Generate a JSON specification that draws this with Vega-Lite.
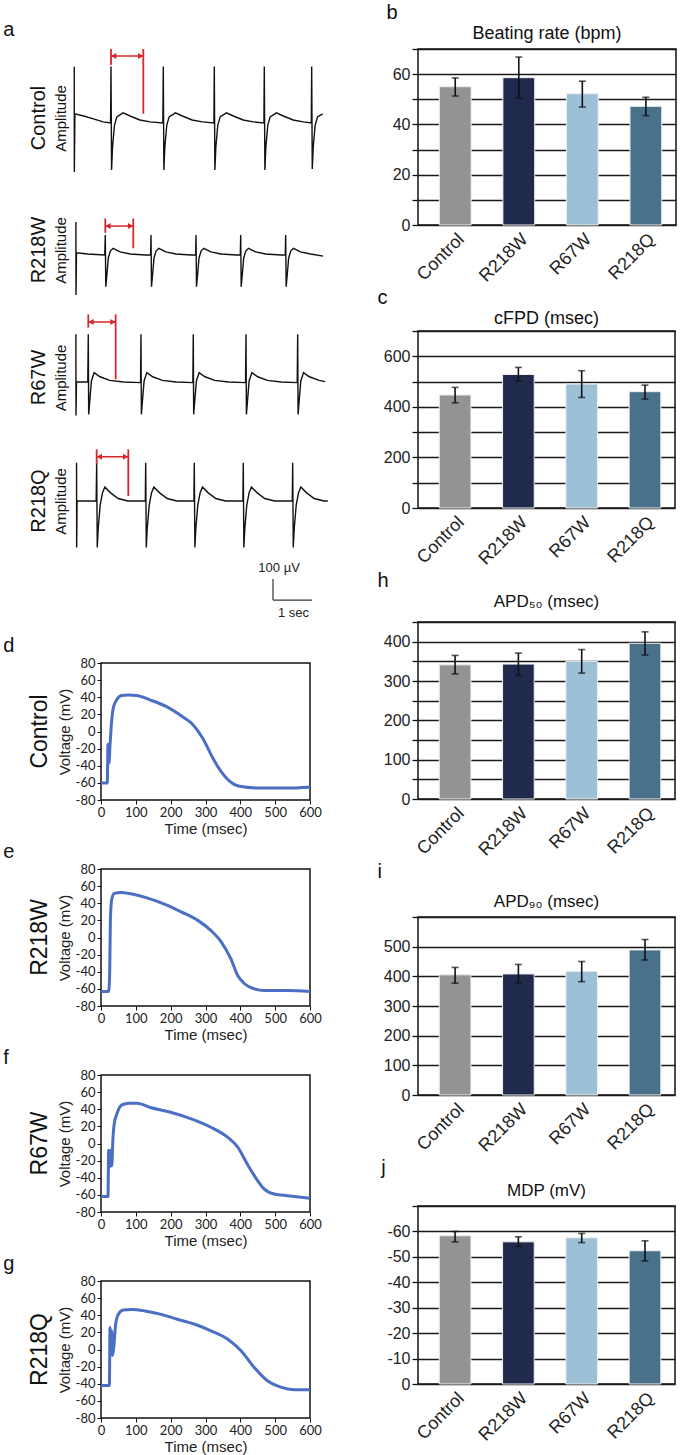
{
"$schema": "https://vega.github.io/schema/vega-lite/v6.json",
"background": "white",
"padding": {"left": 3, "top": 2, "right": 0, "bottom": 0},
"config": {
  "font": "Liberation Sans",
  "view": {"stroke": null},
  "title": {"fontWeight": "normal", "color": "#111"},
  "axis": {"labelColor": "#222", "titleColor": "#222", "titleFontWeight": "normal"}
},
"datasets": {
  "fp": [
    {"trace":"Control","t":0.058,"v":248},{"trace":"Control","t":0.06,"v":-252},{"trace":"Control","t":0.075,"v":24},{"trace":"Control","t":0.3,"v":14},{"trace":"Control","t":0.55,"v":0},{"trace":"Control","t":0.8,"v":-14},{"trace":"Control","t":0.99,"v":-19},
    {"trace":"Control","t":1.0,"v":250},{"trace":"Control","t":1.015,"v":-243},{"trace":"Control","t":1.04,"v":-133},{"trace":"Control","t":1.09,"v":-29},{"trace":"Control","t":1.15,"v":10},{"trace":"Control","t":1.31,"v":29},{"trace":"Control","t":1.49,"v":14},{"trace":"Control","t":1.74,"v":-5},{"trace":"Control","t":2.0,"v":-14},{"trace":"Control","t":2.33,"v":-19},
    {"trace":"Control","t":2.341,"v":250},{"trace":"Control","t":2.356,"v":-243},{"trace":"Control","t":2.381,"v":-133},{"trace":"Control","t":2.431,"v":-29},{"trace":"Control","t":2.491,"v":10},{"trace":"Control","t":2.651,"v":29},{"trace":"Control","t":2.831,"v":14},{"trace":"Control","t":3.081,"v":-5},{"trace":"Control","t":3.341,"v":-14},{"trace":"Control","t":3.639,"v":-19},
    {"trace":"Control","t":3.649,"v":250},{"trace":"Control","t":3.664,"v":-243},{"trace":"Control","t":3.689,"v":-133},{"trace":"Control","t":3.739,"v":-29},{"trace":"Control","t":3.799,"v":10},{"trace":"Control","t":3.959,"v":29},{"trace":"Control","t":4.139,"v":14},{"trace":"Control","t":4.389,"v":-5},{"trace":"Control","t":4.649,"v":-14},{"trace":"Control","t":4.921,"v":-19},
    {"trace":"Control","t":4.931,"v":250},{"trace":"Control","t":4.946,"v":-243},{"trace":"Control","t":4.971,"v":-133},{"trace":"Control","t":5.021,"v":-29},{"trace":"Control","t":5.081,"v":10},{"trace":"Control","t":5.241,"v":29},{"trace":"Control","t":5.421,"v":14},{"trace":"Control","t":5.671,"v":-5},{"trace":"Control","t":5.931,"v":-14},{"trace":"Control","t":6.136,"v":-19},
    {"trace":"Control","t":6.146,"v":250},{"trace":"Control","t":6.161,"v":-238},{"trace":"Control","t":6.186,"v":-133},{"trace":"Control","t":6.236,"v":-29},{"trace":"Control","t":6.296,"v":10},{"trace":"Control","t":6.428,"v":24},

    {"trace":"R218W","t":0.1,"v":152},{"trace":"R218W","t":0.103,"v":-195},{"trace":"R218W","t":0.115,"v":6},{"trace":"R218W","t":0.4,"v":0},{"trace":"R218W","t":0.84,"v":-5},
    {"trace":"R218W","t":0.854,"v":90},{"trace":"R218W","t":0.867,"v":-156},{"trace":"R218W","t":0.894,"v":-100},{"trace":"R218W","t":0.931,"v":-19},{"trace":"R218W","t":0.984,"v":14},{"trace":"R218W","t":1.054,"v":27},{"trace":"R218W","t":1.234,"v":10},{"trace":"R218W","t":1.494,"v":0},{"trace":"R218W","t":1.884,"v":-5},{"trace":"R218W","t":2.016,"v":-5},
    {"trace":"R218W","t":2.026,"v":90},{"trace":"R218W","t":2.039,"v":-156},{"trace":"R218W","t":2.066,"v":-100},{"trace":"R218W","t":2.103,"v":-19},{"trace":"R218W","t":2.156,"v":14},{"trace":"R218W","t":2.226,"v":27},{"trace":"R218W","t":2.406,"v":10},{"trace":"R218W","t":2.666,"v":0},{"trace":"R218W","t":3.056,"v":-5},{"trace":"R218W","t":3.17,"v":-5},
    {"trace":"R218W","t":3.18,"v":90},{"trace":"R218W","t":3.193,"v":-156},{"trace":"R218W","t":3.22,"v":-100},{"trace":"R218W","t":3.257,"v":-19},{"trace":"R218W","t":3.31,"v":14},{"trace":"R218W","t":3.38,"v":27},{"trace":"R218W","t":3.56,"v":10},{"trace":"R218W","t":3.82,"v":0},{"trace":"R218W","t":4.21,"v":-5},{"trace":"R218W","t":4.316,"v":-5},
    {"trace":"R218W","t":4.326,"v":90},{"trace":"R218W","t":4.339,"v":-156},{"trace":"R218W","t":4.366,"v":-100},{"trace":"R218W","t":4.403,"v":-19},{"trace":"R218W","t":4.456,"v":14},{"trace":"R218W","t":4.526,"v":27},{"trace":"R218W","t":4.706,"v":10},{"trace":"R218W","t":4.966,"v":0},{"trace":"R218W","t":5.356,"v":-5},{"trace":"R218W","t":5.469,"v":-5},
    {"trace":"R218W","t":5.479,"v":90},{"trace":"R218W","t":5.492,"v":-156},{"trace":"R218W","t":5.519,"v":-100},{"trace":"R218W","t":5.556,"v":-19},{"trace":"R218W","t":5.609,"v":14},{"trace":"R218W","t":5.679,"v":27},{"trace":"R218W","t":5.859,"v":10},{"trace":"R218W","t":6.119,"v":0},{"trace":"R218W","t":6.44,"v":-10},

    {"trace":"R67W","t":0.1,"v":222},{"trace":"R67W","t":0.103,"v":-165},{"trace":"R67W","t":0.115,"v":-5},{"trace":"R67W","t":0.405,"v":-5},
    {"trace":"R67W","t":0.418,"v":222},{"trace":"R67W","t":0.428,"v":-159},{"trace":"R67W","t":0.458,"v":-90},{"trace":"R67W","t":0.498,"v":0},{"trace":"R67W","t":0.568,"v":40},{"trace":"R67W","t":0.718,"v":20},{"trace":"R67W","t":0.968,"v":3},{"trace":"R67W","t":1.318,"v":-5},{"trace":"R67W","t":1.758,"v":-8},
    {"trace":"R67W","t":1.769,"v":222},{"trace":"R67W","t":1.779,"v":-159},{"trace":"R67W","t":1.809,"v":-90},{"trace":"R67W","t":1.849,"v":0},{"trace":"R67W","t":1.919,"v":40},{"trace":"R67W","t":2.069,"v":20},{"trace":"R67W","t":2.319,"v":3},{"trace":"R67W","t":2.669,"v":-5},{"trace":"R67W","t":3.099,"v":-8},
    {"trace":"R67W","t":3.11,"v":222},{"trace":"R67W","t":3.12,"v":-159},{"trace":"R67W","t":3.15,"v":-90},{"trace":"R67W","t":3.19,"v":0},{"trace":"R67W","t":3.26,"v":40},{"trace":"R67W","t":3.41,"v":20},{"trace":"R67W","t":3.66,"v":3},{"trace":"R67W","t":4.01,"v":-5},{"trace":"R67W","t":4.45,"v":-8},
    {"trace":"R67W","t":4.462,"v":222},{"trace":"R67W","t":4.472,"v":-159},{"trace":"R67W","t":4.502,"v":-90},{"trace":"R67W","t":4.542,"v":0},{"trace":"R67W","t":4.612,"v":40},{"trace":"R67W","t":4.762,"v":20},{"trace":"R67W","t":5.012,"v":3},{"trace":"R67W","t":5.362,"v":-5},{"trace":"R67W","t":5.775,"v":-8},
    {"trace":"R67W","t":5.787,"v":222},{"trace":"R67W","t":5.797,"v":-159},{"trace":"R67W","t":5.827,"v":-90},{"trace":"R67W","t":5.867,"v":0},{"trace":"R67W","t":5.937,"v":40},{"trace":"R67W","t":6.087,"v":20},{"trace":"R67W","t":6.337,"v":3},{"trace":"R67W","t":6.487,"v":-3},

    {"trace":"R218Q","t":0.117,"v":182},{"trace":"R218Q","t":0.12,"v":-222},{"trace":"R218Q","t":0.13,"v":0},{"trace":"R218Q","t":0.62,"v":0},
    {"trace":"R218Q","t":0.633,"v":182},{"trace":"R218Q","t":0.648,"v":-222},{"trace":"R218Q","t":0.673,"v":-130},{"trace":"R218Q","t":0.723,"v":-20},{"trace":"R218Q","t":0.783,"v":40},{"trace":"R218Q","t":0.843,"v":67},{"trace":"R218Q","t":0.983,"v":40},{"trace":"R218Q","t":1.183,"v":12},{"trace":"R218Q","t":1.433,"v":0},{"trace":"R218Q","t":1.88,"v":0},
    {"trace":"R218Q","t":1.89,"v":182},{"trace":"R218Q","t":1.905,"v":-222},{"trace":"R218Q","t":1.93,"v":-130},{"trace":"R218Q","t":1.98,"v":-20},{"trace":"R218Q","t":2.04,"v":40},{"trace":"R218Q","t":2.1,"v":67},{"trace":"R218Q","t":2.24,"v":40},{"trace":"R218Q","t":2.44,"v":12},{"trace":"R218Q","t":2.69,"v":0},{"trace":"R218Q","t":3.126,"v":0},
    {"trace":"R218Q","t":3.136,"v":182},{"trace":"R218Q","t":3.151,"v":-222},{"trace":"R218Q","t":3.176,"v":-130},{"trace":"R218Q","t":3.226,"v":-20},{"trace":"R218Q","t":3.286,"v":40},{"trace":"R218Q","t":3.346,"v":67},{"trace":"R218Q","t":3.486,"v":40},{"trace":"R218Q","t":3.686,"v":12},{"trace":"R218Q","t":3.936,"v":0},{"trace":"R218Q","t":4.382,"v":0},
    {"trace":"R218Q","t":4.392,"v":182},{"trace":"R218Q","t":4.407,"v":-222},{"trace":"R218Q","t":4.432,"v":-130},{"trace":"R218Q","t":4.482,"v":-20},{"trace":"R218Q","t":4.542,"v":40},{"trace":"R218Q","t":4.602,"v":67},{"trace":"R218Q","t":4.742,"v":40},{"trace":"R218Q","t":4.942,"v":12},{"trace":"R218Q","t":5.192,"v":0},{"trace":"R218Q","t":5.649,"v":0},
    {"trace":"R218Q","t":5.659,"v":182},{"trace":"R218Q","t":5.674,"v":-222},{"trace":"R218Q","t":5.699,"v":-130},{"trace":"R218Q","t":5.749,"v":-20},{"trace":"R218Q","t":5.809,"v":40},{"trace":"R218Q","t":5.869,"v":67},{"trace":"R218Q","t":6.009,"v":40},{"trace":"R218Q","t":6.209,"v":12},{"trace":"R218Q","t":6.459,"v":0},{"trace":"R218Q","t":6.56,"v":0}
  ],
  "red": [
    {"trace":"Control","t":1.0,"v1":257,"v2":333},{"trace":"Control","t":1.829,"v1":25,"v2":333},
    {"trace":"R218W","t":0.854,"v1":101,"v2":169},{"trace":"R218W","t":1.572,"v1":27,"v2":169},
    {"trace":"R67W","t":0.418,"v1":254,"v2":317},{"trace":"R67W","t":1.12,"v1":8,"v2":317},
    {"trace":"R218Q","t":0.633,"v1":174,"v2":246},{"trace":"R218Q","t":1.444,"v1":24,"v2":246}
  ],
  "arrow": [
    {"trace":"Control","t1":1.0,"t2":1.829,"v":300},
    {"trace":"R218W","t1":0.854,"t2":1.572,"v":133},
    {"trace":"R67W","t1":0.418,"t2":1.12,"v":281},
    {"trace":"R218Q","t1":0.633,"t2":1.444,"v":211}
  ],
  "heads": [
    {"trace":"Control","t":1.07,"v":300,"dir":"left"},{"trace":"Control","t":1.759,"v":300,"dir":"right"},
    {"trace":"R218W","t":0.924,"v":133,"dir":"left"},{"trace":"R218W","t":1.502,"v":133,"dir":"right"},
    {"trace":"R67W","t":0.488,"v":281,"dir":"left"},{"trace":"R67W","t":1.05,"v":281,"dir":"right"},
    {"trace":"R218Q","t":0.703,"v":211,"dir":"left"},{"trace":"R218Q","t":1.374,"v":211,"dir":"right"}
  ],
  "ap": [
    {"cell":"Control","t":0,"v":-60},{"cell":"Control","t":18,"v":-60},{"cell":"Control","t":20,"v":-15},{"cell":"Control","t":23,"v":-37},{"cell":"Control","t":26,"v":-15},{"cell":"Control","t":29,"v":4},{"cell":"Control","t":35,"v":27},{"cell":"Control","t":45,"v":37},{"cell":"Control","t":59,"v":42},{"cell":"Control","t":78,"v":42.5},{"cell":"Control","t":102,"v":42},{"cell":"Control","t":140,"v":37},{"cell":"Control","t":188,"v":29},{"cell":"Control","t":235,"v":17},{"cell":"Control","t":264,"v":8},{"cell":"Control","t":292,"v":-8},{"cell":"Control","t":321,"v":-31},{"cell":"Control","t":340,"v":-44},{"cell":"Control","t":369,"v":-58},{"cell":"Control","t":397,"v":-64},{"cell":"Control","t":454,"v":-66},{"cell":"Control","t":530,"v":-66},{"cell":"Control","t":600,"v":-65},
    {"cell":"R218W","t":0,"v":-63},{"cell":"R218W","t":22,"v":-63},{"cell":"R218W","t":25,"v":-40},{"cell":"R218W","t":27,"v":22},{"cell":"R218W","t":31,"v":45},{"cell":"R218W","t":38,"v":51.5},{"cell":"R218W","t":57,"v":52.7},{"cell":"R218W","t":86,"v":51},{"cell":"R218W","t":134,"v":46},{"cell":"R218W","t":182,"v":39},{"cell":"R218W","t":230,"v":30},{"cell":"R218W","t":278,"v":20},{"cell":"R218W","t":316,"v":8},{"cell":"R218W","t":345,"v":-5},{"cell":"R218W","t":373,"v":-25},{"cell":"R218W","t":392,"v":-44},{"cell":"R218W","t":412,"v":-54},{"cell":"R218W","t":440,"v":-60},{"cell":"R218W","t":469,"v":-62},{"cell":"R218W","t":536,"v":-62},{"cell":"R218W","t":600,"v":-63},
    {"cell":"R67W","t":0,"v":-62},{"cell":"R67W","t":20,"v":-62},{"cell":"R67W","t":22,"v":-8},{"cell":"R67W","t":25,"v":-27.5},{"cell":"R67W","t":28,"v":-8},{"cell":"R67W","t":31,"v":-26},{"cell":"R67W","t":34,"v":3.5},{"cell":"R67W","t":38,"v":23},{"cell":"R67W","t":46,"v":35},{"cell":"R67W","t":60,"v":45},{"cell":"R67W","t":80,"v":47},{"cell":"R67W","t":104,"v":47},{"cell":"R67W","t":142,"v":42},{"cell":"R67W","t":200,"v":36.5},{"cell":"R67W","t":257,"v":29},{"cell":"R67W","t":315,"v":19},{"cell":"R67W","t":363,"v":7.4},{"cell":"R67W","t":392,"v":-4},{"cell":"R67W","t":420,"v":-24},{"cell":"R67W","t":449,"v":-43},{"cell":"R67W","t":468,"v":-53},{"cell":"R67W","t":497,"v":-59},{"cell":"R67W","t":536,"v":-61},{"cell":"R67W","t":600,"v":-64},
    {"cell":"R218Q","t":0,"v":-42},{"cell":"R218Q","t":24,"v":-42},{"cell":"R218Q","t":26,"v":25.6},{"cell":"R218Q","t":28.6,"v":-5.4},{"cell":"R218Q","t":30.5,"v":21.7},{"cell":"R218Q","t":33,"v":-7},{"cell":"R218Q","t":37,"v":4},{"cell":"R218Q","t":42,"v":29.5},{"cell":"R218Q","t":49.5,"v":41},{"cell":"R218Q","t":64,"v":46},{"cell":"R218Q","t":87.6,"v":46.6},{"cell":"R218Q","t":126,"v":45},{"cell":"R218Q","t":173,"v":41},{"cell":"R218Q","t":221,"v":35},{"cell":"R218Q","t":269,"v":29.5},{"cell":"R218Q","t":316,"v":21.7},{"cell":"R218Q","t":364,"v":12},{"cell":"R218Q","t":402,"v":-1.5},{"cell":"R218Q","t":440,"v":-21},{"cell":"R218Q","t":478,"v":-36.5},{"cell":"R218Q","t":516,"v":-44},{"cell":"R218Q","t":554,"v":-47},{"cell":"R218Q","t":600,"v":-47}
  ],
  "bars": [
    {"panel":"b","group":"Control","mean":55,"lo":51.3,"hi":58.5},{"panel":"b","group":"R218W","mean":58.6,"lo":50.5,"hi":66.8},{"panel":"b","group":"R67W","mean":52.2,"lo":46.9,"hi":57.2},{"panel":"b","group":"R218Q","mean":47.2,"lo":43.5,"hi":50.8},
    {"panel":"c","group":"Control","mean":447,"lo":416,"hi":477},{"panel":"c","group":"R218W","mean":528,"lo":502,"hi":556},{"panel":"c","group":"R67W","mean":490,"lo":437,"hi":543},{"panel":"c","group":"R218Q","mean":460,"lo":431,"hi":486},
    {"panel":"h","group":"Control","mean":341,"lo":318,"hi":365},{"panel":"h","group":"R218W","mean":343,"lo":314,"hi":371},{"panel":"h","group":"R67W","mean":350,"lo":320,"hi":380},{"panel":"h","group":"R218Q","mean":396,"lo":366,"hi":425},
    {"panel":"i","group":"Control","mean":405,"lo":377,"hi":430},{"panel":"i","group":"R218W","mean":408,"lo":377,"hi":440},{"panel":"i","group":"R67W","mean":417,"lo":382,"hi":450},{"panel":"i","group":"R218Q","mean":489,"lo":455,"hi":524},
    {"panel":"j","group":"Control","mean":-58.3,"lo":-55.9,"hi":-60},{"panel":"j","group":"R218W","mean":-55.9,"lo":-54.1,"hi":-57.9},{"panel":"j","group":"R67W","mean":-57.5,"lo":-55.6,"hi":-59.2},{"panel":"j","group":"R218Q","mean":-52.4,"lo":-48.4,"hi":-56.3}
  ]
},
"spacing": 20,
"hconcat": [
  {
    "title": {"text": "a", "anchor": "start", "fontSize": 20, "offset": 8},
    "spacing": 5,
    "vconcat": [
      {
        "spacing": 0,
        "vconcat": [
          {
            "width": 256, "height": 138,
            "title": {"text": "Control", "orient": "left", "fontSize": 20, "offset": 4},
            "layer": [
              {"data": {"name": "fp"}, "transform": [{"filter": "datum.trace == 'Control'"}], "mark": {"type": "line", "color": "#111", "strokeWidth": 1.4}, "encoding": {"x": {"field": "t", "type": "quantitative", "scale": {"domain": [0.744, 7.308], "nice": false, "zero": false}, "axis": null}, "y": {"field": "v", "type": "quantitative", "scale": {"domain": [-324, 333], "nice": false, "zero": false}, "axis": {"title": "Amplitude", "labels": false, "ticks": false, "domain": false, "grid": false, "titleFontSize": 15, "titlePadding": 33, "titleColor": "#111"}}}},
              {"data": {"name": "red"}, "transform": [{"filter": "datum.trace == 'Control'"}], "mark": {"type": "rule", "color": "#d9262b", "strokeWidth": 1.8}, "encoding": {"x": {"field": "t", "type": "quantitative", "axis": null}, "y": {"field": "v1", "type": "quantitative", "axis": {"title": "Amplitude", "labels": false, "ticks": false, "domain": false, "grid": false, "titleFontSize": 15, "titlePadding": 33, "titleColor": "#111"}}, "y2": {"field": "v2"}}},
              {"data": {"name": "arrow"}, "transform": [{"filter": "datum.trace == 'Control'"}], "mark": {"type": "rule", "color": "#d9262b", "strokeWidth": 1.5}, "encoding": {"x": {"field": "t1", "type": "quantitative", "axis": null}, "x2": {"field": "t2"}, "y": {"field": "v", "type": "quantitative", "axis": {"title": "Amplitude", "labels": false, "ticks": false, "domain": false, "grid": false, "titleFontSize": 15, "titlePadding": 33, "titleColor": "#111"}}}},
              {"data": {"name": "heads"}, "transform": [{"filter": "datum.trace == 'Control'"}], "mark": {"type": "point", "filled": true, "color": "#d9262b", "size": 36, "opacity": 1}, "encoding": {"x": {"field": "t", "type": "quantitative", "axis": null}, "y": {"field": "v", "type": "quantitative", "axis": {"title": "Amplitude", "labels": false, "ticks": false, "domain": false, "grid": false, "titleFontSize": 15, "titlePadding": 33, "titleColor": "#111"}}, "shape": {"field": "dir", "type": "nominal", "scale": {"domain": ["left", "right"], "range": ["triangle-left", "triangle-right"]}, "legend": null}}}
            ]
          },
          {
            "width": 256, "height": 126,
            "title": {"text": "R218W", "orient": "left", "fontSize": 20, "offset": 4},
            "layer": [
              {"data": {"name": "fp"}, "transform": [{"filter": "datum.trace == 'R218W'"}], "mark": {"type": "line", "color": "#111", "strokeWidth": 1.4}, "encoding": {"x": {"field": "t", "type": "quantitative", "scale": {"domain": [0.744, 7.308], "nice": false, "zero": false}, "axis": null}, "y": {"field": "v", "type": "quantitative", "scale": {"domain": [-281, 319], "nice": false, "zero": false}, "axis": {"title": "Amplitude", "labels": false, "ticks": false, "domain": false, "grid": false, "titleFontSize": 15, "titlePadding": 33, "titleColor": "#111"}}}},
              {"data": {"name": "red"}, "transform": [{"filter": "datum.trace == 'R218W'"}], "mark": {"type": "rule", "color": "#d9262b", "strokeWidth": 1.8}, "encoding": {"x": {"field": "t", "type": "quantitative", "axis": null}, "y": {"field": "v1", "type": "quantitative", "axis": {"title": "Amplitude", "labels": false, "ticks": false, "domain": false, "grid": false, "titleFontSize": 15, "titlePadding": 33, "titleColor": "#111"}}, "y2": {"field": "v2"}}},
              {"data": {"name": "arrow"}, "transform": [{"filter": "datum.trace == 'R218W'"}], "mark": {"type": "rule", "color": "#d9262b", "strokeWidth": 1.5}, "encoding": {"x": {"field": "t1", "type": "quantitative", "axis": null}, "x2": {"field": "t2"}, "y": {"field": "v", "type": "quantitative", "axis": {"title": "Amplitude", "labels": false, "ticks": false, "domain": false, "grid": false, "titleFontSize": 15, "titlePadding": 33, "titleColor": "#111"}}}},
              {"data": {"name": "heads"}, "transform": [{"filter": "datum.trace == 'R218W'"}], "mark": {"type": "point", "filled": true, "color": "#d9262b", "size": 36, "opacity": 1}, "encoding": {"x": {"field": "t", "type": "quantitative", "axis": null}, "y": {"field": "v", "type": "quantitative", "axis": {"title": "Amplitude", "labels": false, "ticks": false, "domain": false, "grid": false, "titleFontSize": 15, "titlePadding": 33, "titleColor": "#111"}}, "shape": {"field": "dir", "type": "nominal", "scale": {"domain": ["left", "right"], "range": ["triangle-left", "triangle-right"]}, "legend": null}}}
            ]
          },
          {
            "width": 256, "height": 127,
            "title": {"text": "R67W", "orient": "left", "fontSize": 20, "offset": 4},
            "layer": [
              {"data": {"name": "fp"}, "transform": [{"filter": "datum.trace == 'R67W'"}], "mark": {"type": "line", "color": "#111", "strokeWidth": 1.4}, "encoding": {"x": {"field": "t", "type": "quantitative", "scale": {"domain": [0.744, 7.308], "nice": false, "zero": false}, "axis": null}, "y": {"field": "v", "type": "quantitative", "scale": {"domain": [-286, 319], "nice": false, "zero": false}, "axis": {"title": "Amplitude", "labels": false, "ticks": false, "domain": false, "grid": false, "titleFontSize": 15, "titlePadding": 33, "titleColor": "#111"}}}},
              {"data": {"name": "red"}, "transform": [{"filter": "datum.trace == 'R67W'"}], "mark": {"type": "rule", "color": "#d9262b", "strokeWidth": 1.8}, "encoding": {"x": {"field": "t", "type": "quantitative", "axis": null}, "y": {"field": "v1", "type": "quantitative", "axis": {"title": "Amplitude", "labels": false, "ticks": false, "domain": false, "grid": false, "titleFontSize": 15, "titlePadding": 33, "titleColor": "#111"}}, "y2": {"field": "v2"}}},
              {"data": {"name": "arrow"}, "transform": [{"filter": "datum.trace == 'R67W'"}], "mark": {"type": "rule", "color": "#d9262b", "strokeWidth": 1.5}, "encoding": {"x": {"field": "t1", "type": "quantitative", "axis": null}, "x2": {"field": "t2"}, "y": {"field": "v", "type": "quantitative", "axis": {"title": "Amplitude", "labels": false, "ticks": false, "domain": false, "grid": false, "titleFontSize": 15, "titlePadding": 33, "titleColor": "#111"}}}},
              {"data": {"name": "heads"}, "transform": [{"filter": "datum.trace == 'R67W'"}], "mark": {"type": "point", "filled": true, "color": "#d9262b", "size": 36, "opacity": 1}, "encoding": {"x": {"field": "t", "type": "quantitative", "axis": null}, "y": {"field": "v", "type": "quantitative", "axis": {"title": "Amplitude", "labels": false, "ticks": false, "domain": false, "grid": false, "titleFontSize": 15, "titlePadding": 33, "titleColor": "#111"}}, "shape": {"field": "dir", "type": "nominal", "scale": {"domain": ["left", "right"], "range": ["triangle-left", "triangle-right"]}, "legend": null}}}
            ]
          },
          {
            "width": 256, "height": 120,
            "title": {"text": "R218Q", "orient": "left", "fontSize": 20, "offset": 4},
            "layer": [
              {"data": {"name": "fp"}, "transform": [{"filter": "datum.trace == 'R218Q'"}], "mark": {"type": "line", "color": "#111", "strokeWidth": 1.4}, "encoding": {"x": {"field": "t", "type": "quantitative", "scale": {"domain": [0.744, 7.308], "nice": false, "zero": false}, "axis": null}, "y": {"field": "v", "type": "quantitative", "scale": {"domain": [-286, 286], "nice": false, "zero": false}, "axis": {"title": "Amplitude", "labels": false, "ticks": false, "domain": false, "grid": false, "titleFontSize": 15, "titlePadding": 33, "titleColor": "#111"}}}},
              {"data": {"name": "red"}, "transform": [{"filter": "datum.trace == 'R218Q'"}], "mark": {"type": "rule", "color": "#d9262b", "strokeWidth": 1.8}, "encoding": {"x": {"field": "t", "type": "quantitative", "axis": null}, "y": {"field": "v1", "type": "quantitative", "axis": {"title": "Amplitude", "labels": false, "ticks": false, "domain": false, "grid": false, "titleFontSize": 15, "titlePadding": 33, "titleColor": "#111"}}, "y2": {"field": "v2"}}},
              {"data": {"name": "arrow"}, "transform": [{"filter": "datum.trace == 'R218Q'"}], "mark": {"type": "rule", "color": "#d9262b", "strokeWidth": 1.5}, "encoding": {"x": {"field": "t1", "type": "quantitative", "axis": null}, "x2": {"field": "t2"}, "y": {"field": "v", "type": "quantitative", "axis": {"title": "Amplitude", "labels": false, "ticks": false, "domain": false, "grid": false, "titleFontSize": 15, "titlePadding": 33, "titleColor": "#111"}}}},
              {"data": {"name": "heads"}, "transform": [{"filter": "datum.trace == 'R218Q'"}], "mark": {"type": "point", "filled": true, "color": "#d9262b", "size": 36, "opacity": 1}, "encoding": {"x": {"field": "t", "type": "quantitative", "axis": null}, "y": {"field": "v", "type": "quantitative", "axis": {"title": "Amplitude", "labels": false, "ticks": false, "domain": false, "grid": false, "titleFontSize": 15, "titlePadding": 33, "titleColor": "#111"}}, "shape": {"field": "dir", "type": "nominal", "scale": {"domain": ["left", "right"], "range": ["triangle-left", "triangle-right"]}, "legend": null}}}
            ]
          },
          {
            "width": 256, "height": 70,
            "layer": [
              {"data": {"values": [{"t1": 5.154, "t2": 5.154, "v1": 0, "v2": 100}, {"t1": 5.154, "t2": 6.154, "v1": 0, "v2": 0}]}, "mark": {"type": "rule", "color": "#333", "strokeWidth": 1.2}, "encoding": {"x": {"field": "t1", "type": "quantitative", "scale": {"domain": [0.744, 7.308], "nice": false, "zero": false}, "axis": null}, "x2": {"field": "t2"}, "y": {"field": "v1", "type": "quantitative", "scale": {"domain": [-147, 186], "nice": false, "zero": false}, "axis": null}, "y2": {"field": "v2"}}},
              {"data": {"values": [{"t": 5.31, "v": 152, "label": "100 µV"}, {"t": 5.68, "v": -62, "label": "1 sec"}]}, "mark": {"type": "text", "fontSize": 13, "color": "#222"}, "encoding": {"x": {"field": "t", "type": "quantitative", "axis": null}, "y": {"field": "v", "type": "quantitative", "axis": null}, "text": {"field": "label"}}}
            ]
          }
        ]
      },
      {
        "title": {"text": "d", "anchor": "start", "fontSize": 20, "dx": -25, "offset": 0},
        "vconcat": [{
          "width": 209, "height": 137,
          "view": {"stroke": "#111", "strokeWidth": 1.5},
          "title": {"text": "Control", "orient": "left", "fontSize": 23, "offset": 5},
          "data": {"name": "ap"},
          "transform": [{"filter": "datum.cell == 'Control'"}],
          "mark": {"type": "line", "color": "#4a6fc4", "strokeWidth": 3, "interpolate": "monotone"},
          "encoding": {
            "x": {"field": "t", "type": "quantitative", "scale": {"domain": [0, 600], "nice": false}, "axis": {"values": [0, 100, 200, 300, 400, 500, 600], "title": "Time (msec)", "grid": false, "domain": false, "tickSize": 4, "tickColor": "#111", "labelFont": "Lato", "labelFontSize": 13, "titleFontSize": 15, "labelPadding": 2, "titlePadding": 2, "labelFlush": false}},
            "y": {"field": "v", "type": "quantitative", "scale": {"domain": [-80, 80], "nice": false}, "axis": {"values": [-80, -60, -40, -20, 0, 20, 40, 60, 80], "labelExpr": "toString(datum.value)", "title": "Voltage (mV)", "grid": false, "domain": false, "tickSize": 4, "tickColor": "#111", "labelFont": "Lato", "labelFontSize": 13, "titleFontSize": 15, "labelPadding": 2, "titlePadding": 3, "labelFlush": false}}
          }
        }]
      },
      {
        "title": {"text": "e", "anchor": "start", "fontSize": 20, "dx": -25, "offset": 0},
        "vconcat": [{
          "width": 209, "height": 137,
          "view": {"stroke": "#111", "strokeWidth": 1.5},
          "title": {"text": "R218W", "orient": "left", "fontSize": 23, "offset": 5},
          "data": {"name": "ap"},
          "transform": [{"filter": "datum.cell == 'R218W'"}],
          "mark": {"type": "line", "color": "#4a6fc4", "strokeWidth": 3, "interpolate": "monotone"},
          "encoding": {
            "x": {"field": "t", "type": "quantitative", "scale": {"domain": [0, 600], "nice": false}, "axis": {"values": [0, 100, 200, 300, 400, 500, 600], "title": "Time (msec)", "grid": false, "domain": false, "tickSize": 4, "tickColor": "#111", "labelFont": "Lato", "labelFontSize": 13, "titleFontSize": 15, "labelPadding": 2, "titlePadding": 2, "labelFlush": false}},
            "y": {"field": "v", "type": "quantitative", "scale": {"domain": [-80, 80], "nice": false}, "axis": {"values": [-80, -60, -40, -20, 0, 20, 40, 60, 80], "labelExpr": "toString(datum.value)", "title": "Voltage (mV)", "grid": false, "domain": false, "tickSize": 4, "tickColor": "#111", "labelFont": "Lato", "labelFontSize": 13, "titleFontSize": 15, "labelPadding": 2, "titlePadding": 3, "labelFlush": false}}
          }
        }]
      },
      {
        "title": {"text": "f", "anchor": "start", "fontSize": 20, "dx": -25, "offset": 0},
        "vconcat": [{
          "width": 209, "height": 137,
          "view": {"stroke": "#111", "strokeWidth": 1.5},
          "title": {"text": "R67W", "orient": "left", "fontSize": 23, "offset": 5},
          "data": {"name": "ap"},
          "transform": [{"filter": "datum.cell == 'R67W'"}],
          "mark": {"type": "line", "color": "#4a6fc4", "strokeWidth": 3, "interpolate": "monotone"},
          "encoding": {
            "x": {"field": "t", "type": "quantitative", "scale": {"domain": [0, 600], "nice": false}, "axis": {"values": [0, 100, 200, 300, 400, 500, 600], "title": "Time (msec)", "grid": false, "domain": false, "tickSize": 4, "tickColor": "#111", "labelFont": "Lato", "labelFontSize": 13, "titleFontSize": 15, "labelPadding": 2, "titlePadding": 2, "labelFlush": false}},
            "y": {"field": "v", "type": "quantitative", "scale": {"domain": [-80, 80], "nice": false}, "axis": {"values": [-80, -60, -40, -20, 0, 20, 40, 60, 80], "labelExpr": "toString(datum.value)", "title": "Voltage (mV)", "grid": false, "domain": false, "tickSize": 4, "tickColor": "#111", "labelFont": "Lato", "labelFontSize": 13, "titleFontSize": 15, "labelPadding": 2, "titlePadding": 3, "labelFlush": false}}
          }
        }]
      },
      {
        "title": {"text": "g", "anchor": "start", "fontSize": 20, "dx": -25, "offset": 0},
        "vconcat": [{
          "width": 209, "height": 137,
          "view": {"stroke": "#111", "strokeWidth": 1.5},
          "title": {"text": "R218Q", "orient": "left", "fontSize": 23, "offset": 5},
          "data": {"name": "ap"},
          "transform": [{"filter": "datum.cell == 'R218Q'"}],
          "mark": {"type": "line", "color": "#4a6fc4", "strokeWidth": 3, "interpolate": "monotone"},
          "encoding": {
            "x": {"field": "t", "type": "quantitative", "scale": {"domain": [0, 600], "nice": false}, "axis": {"values": [0, 100, 200, 300, 400, 500, 600], "title": "Time (msec)", "grid": false, "domain": false, "tickSize": 4, "tickColor": "#111", "labelFont": "Lato", "labelFontSize": 13, "titleFontSize": 15, "labelPadding": 2, "titlePadding": 2, "labelFlush": false}},
            "y": {"field": "v", "type": "quantitative", "scale": {"domain": [-80, 80], "nice": false}, "axis": {"values": [-80, -60, -40, -20, 0, 20, 40, 60, 80], "labelExpr": "toString(datum.value)", "title": "Voltage (mV)", "grid": false, "domain": false, "tickSize": 4, "tickColor": "#111", "labelFont": "Lato", "labelFontSize": 13, "titleFontSize": 15, "labelPadding": 2, "titlePadding": 3, "labelFlush": false}}
          }
        }]
      }
    ]
  },
  {
    "spacing": 1,
    "vconcat": [
      {
        "title": {"text": "b", "anchor": "start", "fontSize": 20, "dx": -5, "offset": 2},
        "vconcat": [{
          "width": 258, "height": 176,
          "view": {"stroke": "#111", "strokeWidth": 1.5},
          "title": {"text": "Beating rate (bpm)", "fontSize": 18, "offset": 5},
          "data": {"name": "bars"},
          "transform": [{"filter": "datum.panel == 'b'"}],
          "encoding": {"x": {"field": "group", "type": "nominal", "sort": ["Control", "R218W", "R67W", "R218Q"], "scale": {"paddingInner": 0.5, "paddingOuter": 0.28, "align": 0.6}, "axis": {"title": null, "labelAngle": -45, "labelFontSize": 18, "ticks": false, "domain": false, "labelPadding": 5}}},
          "layer": [
            {"mark": {"type": "bar", "stroke": "#eeeeee", "strokeWidth": 1}, "encoding": {"y": {"field": "mean", "type": "quantitative", "scale": {"domain": [0, 70], "nice": false}, "axis": {"values": [0, 10, 20, 30, 40, 50, 60, 70], "labelExpr": "datum.value % 20 == 0 && datum.value < 70 ? toString(datum.value) : ''", "title": null, "grid": true, "gridColor": "#1a1a1a", "gridWidth": 1.3, "tickSize": 6, "tickWidth": 1.3, "tickColor": "#111", "domain": false, "labelFontSize": 16, "labelPadding": 2}}, "color": {"field": "group", "type": "nominal", "scale": {"domain": ["Control", "R218W", "R67W", "R218Q"], "range": ["#939393", "#1f2a4d", "#9cc1d6", "#4a718c"]}, "legend": null}}},
            {"mark": {"type": "rule", "color": "#111", "strokeWidth": 1.6}, "encoding": {"y": {"field": "lo", "type": "quantitative", "axis": {"values": [0, 10, 20, 30, 40, 50, 60, 70], "labelExpr": "datum.value % 20 == 0 && datum.value < 70 ? toString(datum.value) : ''", "title": null, "grid": true, "gridColor": "#1a1a1a", "gridWidth": 1.3, "tickSize": 6, "tickWidth": 1.3, "tickColor": "#111", "domain": false, "labelFontSize": 16, "labelPadding": 2}}, "y2": {"field": "hi"}}},
            {"mark": {"type": "tick", "color": "#111", "size": 7, "thickness": 1.6}, "encoding": {"y": {"field": "lo", "type": "quantitative", "axis": {"values": [0, 10, 20, 30, 40, 50, 60, 70], "labelExpr": "datum.value % 20 == 0 && datum.value < 70 ? toString(datum.value) : ''", "title": null, "grid": true, "gridColor": "#1a1a1a", "gridWidth": 1.3, "tickSize": 6, "tickWidth": 1.3, "tickColor": "#111", "domain": false, "labelFontSize": 16, "labelPadding": 2}}}},
            {"mark": {"type": "tick", "color": "#111", "size": 7, "thickness": 1.6}, "encoding": {"y": {"field": "hi", "type": "quantitative", "axis": {"values": [0, 10, 20, 30, 40, 50, 60, 70], "labelExpr": "datum.value % 20 == 0 && datum.value < 70 ? toString(datum.value) : ''", "title": null, "grid": true, "gridColor": "#1a1a1a", "gridWidth": 1.3, "tickSize": 6, "tickWidth": 1.3, "tickColor": "#111", "domain": false, "labelFontSize": 16, "labelPadding": 2}}}}
          ]
        }]
      },
      {
        "title": {"text": "c", "anchor": "start", "fontSize": 20, "dx": -5, "offset": 2},
        "vconcat": [{
          "width": 257, "height": 177,
          "view": {"stroke": "#111", "strokeWidth": 1.5},
          "title": {"text": "cFPD (msec)", "fontSize": 18, "offset": 2},
          "data": {"name": "bars"},
          "transform": [{"filter": "datum.panel == 'c'"}],
          "encoding": {"x": {"field": "group", "type": "nominal", "sort": ["Control", "R218W", "R67W", "R218Q"], "scale": {"paddingInner": 0.5, "paddingOuter": 0.28, "align": 0.6}, "axis": {"title": null, "labelAngle": -45, "labelFontSize": 18, "ticks": false, "domain": false, "labelPadding": 5}}},
          "layer": [
            {"mark": {"type": "bar", "stroke": "#eeeeee", "strokeWidth": 1}, "encoding": {"y": {"field": "mean", "type": "quantitative", "scale": {"domain": [0, 700], "nice": false}, "axis": {"values": [0, 100, 200, 300, 400, 500, 600, 700], "labelExpr": "datum.value % 200 == 0 && datum.value < 700 ? toString(datum.value) : ''", "title": null, "grid": true, "gridColor": "#1a1a1a", "gridWidth": 1.3, "tickSize": 6, "tickWidth": 1.3, "tickColor": "#111", "domain": false, "labelFontSize": 16, "labelPadding": 2}}, "color": {"field": "group", "type": "nominal", "scale": {"domain": ["Control", "R218W", "R67W", "R218Q"], "range": ["#939393", "#1f2a4d", "#9cc1d6", "#4a718c"]}, "legend": null}}},
            {"mark": {"type": "rule", "color": "#111", "strokeWidth": 1.6}, "encoding": {"y": {"field": "lo", "type": "quantitative", "axis": {"values": [0, 100, 200, 300, 400, 500, 600, 700], "labelExpr": "datum.value % 200 == 0 && datum.value < 700 ? toString(datum.value) : ''", "title": null, "grid": true, "gridColor": "#1a1a1a", "gridWidth": 1.3, "tickSize": 6, "tickWidth": 1.3, "tickColor": "#111", "domain": false, "labelFontSize": 16, "labelPadding": 2}}, "y2": {"field": "hi"}}},
            {"mark": {"type": "tick", "color": "#111", "size": 7, "thickness": 1.6}, "encoding": {"y": {"field": "lo", "type": "quantitative", "axis": {"values": [0, 100, 200, 300, 400, 500, 600, 700], "labelExpr": "datum.value % 200 == 0 && datum.value < 700 ? toString(datum.value) : ''", "title": null, "grid": true, "gridColor": "#1a1a1a", "gridWidth": 1.3, "tickSize": 6, "tickWidth": 1.3, "tickColor": "#111", "domain": false, "labelFontSize": 16, "labelPadding": 2}}}},
            {"mark": {"type": "tick", "color": "#111", "size": 7, "thickness": 1.6}, "encoding": {"y": {"field": "hi", "type": "quantitative", "axis": {"values": [0, 100, 200, 300, 400, 500, 600, 700], "labelExpr": "datum.value % 200 == 0 && datum.value < 700 ? toString(datum.value) : ''", "title": null, "grid": true, "gridColor": "#1a1a1a", "gridWidth": 1.3, "tickSize": 6, "tickWidth": 1.3, "tickColor": "#111", "domain": false, "labelFontSize": 16, "labelPadding": 2}}}}
          ]
        }]
      },
      {
        "title": {"text": "h", "anchor": "start", "fontSize": 20, "dx": -5, "offset": 2},
        "vconcat": [{
          "width": 257, "height": 177,
          "view": {"stroke": "#111", "strokeWidth": 1.5},
          "title": {"text": "APD₅₀ (msec)", "fontSize": 17, "offset": 10},
          "data": {"name": "bars"},
          "transform": [{"filter": "datum.panel == 'h'"}],
          "encoding": {"x": {"field": "group", "type": "nominal", "sort": ["Control", "R218W", "R67W", "R218Q"], "scale": {"paddingInner": 0.5, "paddingOuter": 0.28, "align": 0.6}, "axis": {"title": null, "labelAngle": -45, "labelFontSize": 18, "ticks": false, "domain": false, "labelPadding": 5}}},
          "layer": [
            {"mark": {"type": "bar", "stroke": "#eeeeee", "strokeWidth": 1}, "encoding": {"y": {"field": "mean", "type": "quantitative", "scale": {"domain": [0, 450], "nice": false}, "axis": {"values": [0, 50, 100, 150, 200, 250, 300, 350, 400, 450], "labelExpr": "datum.value % 100 == 0 && datum.value < 450 ? toString(datum.value) : ''", "title": null, "grid": true, "gridColor": "#1a1a1a", "gridWidth": 1.3, "tickSize": 6, "tickWidth": 1.3, "tickColor": "#111", "domain": false, "labelFontSize": 16, "labelPadding": 2}}, "color": {"field": "group", "type": "nominal", "scale": {"domain": ["Control", "R218W", "R67W", "R218Q"], "range": ["#939393", "#1f2a4d", "#9cc1d6", "#4a718c"]}, "legend": null}}},
            {"mark": {"type": "rule", "color": "#111", "strokeWidth": 1.6}, "encoding": {"y": {"field": "lo", "type": "quantitative", "axis": {"values": [0, 50, 100, 150, 200, 250, 300, 350, 400, 450], "labelExpr": "datum.value % 100 == 0 && datum.value < 450 ? toString(datum.value) : ''", "title": null, "grid": true, "gridColor": "#1a1a1a", "gridWidth": 1.3, "tickSize": 6, "tickWidth": 1.3, "tickColor": "#111", "domain": false, "labelFontSize": 16, "labelPadding": 2}}, "y2": {"field": "hi"}}},
            {"mark": {"type": "tick", "color": "#111", "size": 7, "thickness": 1.6}, "encoding": {"y": {"field": "lo", "type": "quantitative", "axis": {"values": [0, 50, 100, 150, 200, 250, 300, 350, 400, 450], "labelExpr": "datum.value % 100 == 0 && datum.value < 450 ? toString(datum.value) : ''", "title": null, "grid": true, "gridColor": "#1a1a1a", "gridWidth": 1.3, "tickSize": 6, "tickWidth": 1.3, "tickColor": "#111", "domain": false, "labelFontSize": 16, "labelPadding": 2}}}},
            {"mark": {"type": "tick", "color": "#111", "size": 7, "thickness": 1.6}, "encoding": {"y": {"field": "hi", "type": "quantitative", "axis": {"values": [0, 50, 100, 150, 200, 250, 300, 350, 400, 450], "labelExpr": "datum.value % 100 == 0 && datum.value < 450 ? toString(datum.value) : ''", "title": null, "grid": true, "gridColor": "#1a1a1a", "gridWidth": 1.3, "tickSize": 6, "tickWidth": 1.3, "tickColor": "#111", "domain": false, "labelFontSize": 16, "labelPadding": 2}}}}
          ]
        }]
      },
      {
        "title": {"text": "i", "anchor": "start", "fontSize": 20, "dx": -5, "offset": 11},
        "vconcat": [{
          "width": 257, "height": 178,
          "view": {"stroke": "#111", "strokeWidth": 1.5},
          "title": {"text": "APD₉₀ (msec)", "fontSize": 17, "offset": 5},
          "data": {"name": "bars"},
          "transform": [{"filter": "datum.panel == 'i'"}],
          "encoding": {"x": {"field": "group", "type": "nominal", "sort": ["Control", "R218W", "R67W", "R218Q"], "scale": {"paddingInner": 0.5, "paddingOuter": 0.28, "align": 0.6}, "axis": {"title": null, "labelAngle": -45, "labelFontSize": 18, "ticks": false, "domain": false, "labelPadding": 5}}},
          "layer": [
            {"mark": {"type": "bar", "stroke": "#eeeeee", "strokeWidth": 1}, "encoding": {"y": {"field": "mean", "type": "quantitative", "scale": {"domain": [0, 600], "nice": false}, "axis": {"values": [0, 100, 200, 300, 400, 500, 600], "labelExpr": "datum.value < 600 ? toString(datum.value) : ''", "title": null, "grid": true, "gridColor": "#1a1a1a", "gridWidth": 1.3, "tickSize": 6, "tickWidth": 1.3, "tickColor": "#111", "domain": false, "labelFontSize": 16, "labelPadding": 2}}, "color": {"field": "group", "type": "nominal", "scale": {"domain": ["Control", "R218W", "R67W", "R218Q"], "range": ["#939393", "#1f2a4d", "#9cc1d6", "#4a718c"]}, "legend": null}}},
            {"mark": {"type": "rule", "color": "#111", "strokeWidth": 1.6}, "encoding": {"y": {"field": "lo", "type": "quantitative", "axis": {"values": [0, 100, 200, 300, 400, 500, 600], "labelExpr": "datum.value < 600 ? toString(datum.value) : ''", "title": null, "grid": true, "gridColor": "#1a1a1a", "gridWidth": 1.3, "tickSize": 6, "tickWidth": 1.3, "tickColor": "#111", "domain": false, "labelFontSize": 16, "labelPadding": 2}}, "y2": {"field": "hi"}}},
            {"mark": {"type": "tick", "color": "#111", "size": 7, "thickness": 1.6}, "encoding": {"y": {"field": "lo", "type": "quantitative", "axis": {"values": [0, 100, 200, 300, 400, 500, 600], "labelExpr": "datum.value < 600 ? toString(datum.value) : ''", "title": null, "grid": true, "gridColor": "#1a1a1a", "gridWidth": 1.3, "tickSize": 6, "tickWidth": 1.3, "tickColor": "#111", "domain": false, "labelFontSize": 16, "labelPadding": 2}}}},
            {"mark": {"type": "tick", "color": "#111", "size": 7, "thickness": 1.6}, "encoding": {"y": {"field": "hi", "type": "quantitative", "axis": {"values": [0, 100, 200, 300, 400, 500, 600], "labelExpr": "datum.value < 600 ? toString(datum.value) : ''", "title": null, "grid": true, "gridColor": "#1a1a1a", "gridWidth": 1.3, "tickSize": 6, "tickWidth": 1.3, "tickColor": "#111", "domain": false, "labelFontSize": 16, "labelPadding": 2}}}}
          ]
        }]
      },
      {
        "title": {"text": "j", "anchor": "start", "fontSize": 20, "dx": -5, "offset": 4},
        "vconcat": [{
          "width": 257, "height": 178,
          "view": {"stroke": "#111", "strokeWidth": 1.5},
          "title": {"text": "MDP (mV)", "fontSize": 17, "offset": 5},
          "data": {"name": "bars"},
          "transform": [{"filter": "datum.panel == 'j'"}],
          "encoding": {"x": {"field": "group", "type": "nominal", "sort": ["Control", "R218W", "R67W", "R218Q"], "scale": {"paddingInner": 0.5, "paddingOuter": 0.28, "align": 0.6}, "axis": {"title": null, "labelAngle": -45, "labelFontSize": 18, "ticks": false, "domain": false, "labelPadding": 5}}},
          "layer": [
            {"mark": {"type": "bar", "stroke": "#eeeeee", "strokeWidth": 1}, "encoding": {"y": {"field": "mean", "type": "quantitative", "scale": {"domain": [0, -70], "nice": false}, "axis": {"values": [0, -10, -20, -30, -40, -50, -60, -70], "labelExpr": "datum.value > -70 ? toString(datum.value) : ''", "title": null, "grid": true, "gridColor": "#1a1a1a", "gridWidth": 1.3, "tickSize": 6, "tickWidth": 1.3, "tickColor": "#111", "domain": false, "labelFontSize": 16, "labelPadding": 2}}, "color": {"field": "group", "type": "nominal", "scale": {"domain": ["Control", "R218W", "R67W", "R218Q"], "range": ["#939393", "#1f2a4d", "#9cc1d6", "#4a718c"]}, "legend": null}}},
            {"mark": {"type": "rule", "color": "#111", "strokeWidth": 1.6}, "encoding": {"y": {"field": "lo", "type": "quantitative", "axis": {"values": [0, -10, -20, -30, -40, -50, -60, -70], "labelExpr": "datum.value > -70 ? toString(datum.value) : ''", "title": null, "grid": true, "gridColor": "#1a1a1a", "gridWidth": 1.3, "tickSize": 6, "tickWidth": 1.3, "tickColor": "#111", "domain": false, "labelFontSize": 16, "labelPadding": 2}}, "y2": {"field": "hi"}}},
            {"mark": {"type": "tick", "color": "#111", "size": 7, "thickness": 1.6}, "encoding": {"y": {"field": "lo", "type": "quantitative", "axis": {"values": [0, -10, -20, -30, -40, -50, -60, -70], "labelExpr": "datum.value > -70 ? toString(datum.value) : ''", "title": null, "grid": true, "gridColor": "#1a1a1a", "gridWidth": 1.3, "tickSize": 6, "tickWidth": 1.3, "tickColor": "#111", "domain": false, "labelFontSize": 16, "labelPadding": 2}}}},
            {"mark": {"type": "tick", "color": "#111", "size": 7, "thickness": 1.6}, "encoding": {"y": {"field": "hi", "type": "quantitative", "axis": {"values": [0, -10, -20, -30, -40, -50, -60, -70], "labelExpr": "datum.value > -70 ? toString(datum.value) : ''", "title": null, "grid": true, "gridColor": "#1a1a1a", "gridWidth": 1.3, "tickSize": 6, "tickWidth": 1.3, "tickColor": "#111", "domain": false, "labelFontSize": 16, "labelPadding": 2}}}}
          ]
        }]
      }
    ]
  }
]
}
